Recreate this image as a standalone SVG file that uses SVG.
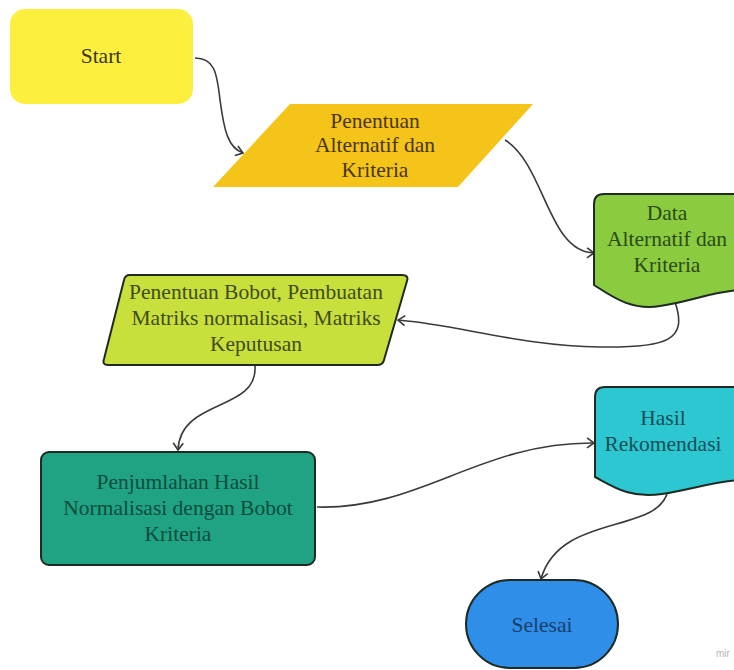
<svg xmlns="http://www.w3.org/2000/svg" width="734" height="670" viewBox="0 0 734 670">
<defs>
<style>
.t{font-family:"Liberation Serif","Times New Roman",serif;font-size:21.5px;text-anchor:middle}
.c{fill:none;stroke:#3a3a3a;stroke-width:1.6}
.n{stroke:#1e2a22;stroke-width:2}
</style>
<marker id="ah" markerWidth="12" markerHeight="12" refX="9" refY="6" orient="auto" markerUnits="userSpaceOnUse">
<path d="M2,1 L9,6 L2,11" fill="none" stroke="#3a3a3a" stroke-width="1.6"/>
</marker>
</defs>
<rect width="734" height="670" fill="#ffffff"/>
<g id="connectors">
<path class="c" d="M195,58 C214,58 217,72 220,100 C224,130 228,148 243,153" marker-end="url(#ah)"/>
<path class="c" d="M505,140 C545,165 548,252 594,253" marker-end="url(#ah)"/>
<path class="c" d="M675,302 C688,340 668,348 600,347 C520,346 460,325 398,320" marker-end="url(#ah)"/>
<path class="c" d="M255,366 C258,412 180,398 178,450" marker-end="url(#ah)"/>
<path class="c" d="M317,507 C420,510 480,442 594,443" marker-end="url(#ah)"/>
<path class="c" d="M668,490 C660,535 560,512 541,579" marker-end="url(#ah)"/>
</g>
<g id="start">
<rect x="10" y="9" width="183" height="95" rx="15" fill="#fdef3e"/>
<text class="t" x="101" y="63" fill="#3b3520">Start</text>
</g>
<g id="penentuan">
<polygon points="290,104 533,104 458,187 213,187" fill="#f5c418"/>
<text class="t" fill="#4a3514"><tspan x="375" y="128">Penentuan</tspan><tspan x="375" y="152">Alternatif dan</tspan><tspan x="375" y="177">Kriteria</tspan></text>
</g>
<g id="data">
<path class="n" d="M594,204 Q594,194 604,194 L740,194 L740,290 C710,292 690,302 660,306 C630,311 610,295 594,285 Z" fill="#8bcb40"/>
<text class="t" fill="#2c4a16"><tspan x="667" y="220">Data</tspan><tspan x="667" y="246">Alternatif dan</tspan><tspan x="667" y="272">Kriteria</tspan></text>
</g>
<g id="bobot">
<path class="n" d="M130,275 L402,275 Q409,275 407,281 L384,360 Q383,365 377,365 L108,365 Q102,365 104,359 L124,280 Q125,275 130,275 Z" fill="#c8df3c"/>
<text class="t" fill="#3f4d1a"><tspan x="256" y="299">Penentuan Bobot, Pembuatan</tspan><tspan x="256" y="325">Matriks normalisasi, Matriks</tspan><tspan x="256" y="351">Keputusan</tspan></text>
</g>
<g id="penjumlahan">
<rect class="n" x="41" y="452" width="274" height="113" rx="8" fill="#1fa383"/>
<text class="t" fill="#0e4c3b"><tspan x="178" y="489">Penjumlahan Hasil</tspan><tspan x="178" y="515">Normalisasi dengan Bobot</tspan><tspan x="178" y="541">Kriteria</tspan></text>
</g>
<g id="hasil">
<path class="n" d="M595,397 Q595,387 605,387 L740,387 L740,480 C712,482 690,490 662,494 C630,499 612,486 595,477 Z" fill="#2cc7d1"/>
<text class="t" fill="#134f58"><tspan x="663" y="425">Hasil</tspan><tspan x="663" y="451">Rekomendasi</tspan></text>
</g>
<g id="selesai">
<rect class="n" x="466" y="580" width="152" height="88" rx="44" fill="#2f8fe8"/>
<text class="t" x="542" y="632" fill="#183e6e">Selesai</text>
</g>
<text x="716" y="657" font-family="Liberation Sans, Arial, sans-serif" font-size="10" fill="#b8b8b8">mir</text>
</svg>
